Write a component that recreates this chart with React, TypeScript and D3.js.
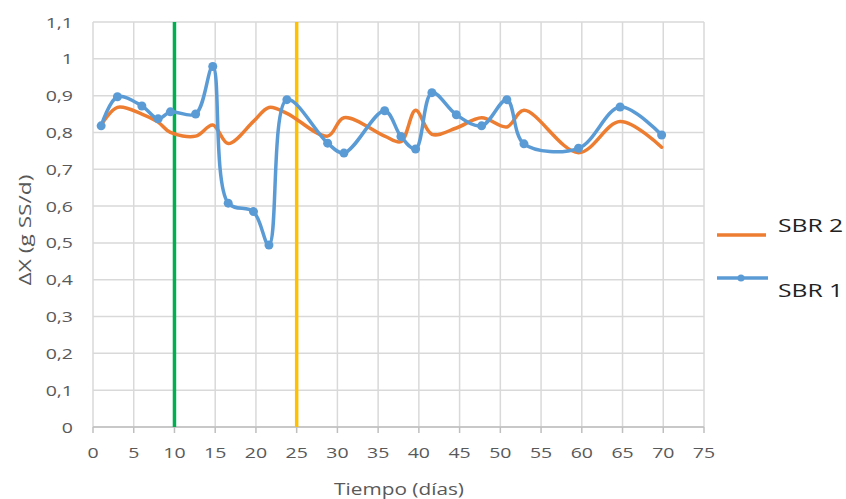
import React from "react";
import * as d3 from "d3";

const days = [1, 3, 6, 8, 9.5, 12.6, 14.7, 16.6, 19.7, 21.6, 23.8, 28.8, 30.8, 35.8, 37.8, 39.6, 41.6, 44.6, 47.7, 50.8, 52.9, 59.6, 64.7, 69.8];
const sbr1 = [0.818, 0.897, 0.872, 0.837, 0.856, 0.85, 0.979, 0.608, 0.585, 0.494, 0.889, 0.771, 0.744, 0.859, 0.789, 0.755, 0.908, 0.848, 0.818, 0.889, 0.769, 0.757, 0.869, 0.793];
const sbr2 = [0.82, 0.868, 0.85, 0.828, 0.8, 0.79, 0.82, 0.77, 0.83, 0.868, 0.852, 0.79, 0.84, 0.79, 0.775, 0.86, 0.795, 0.812, 0.84, 0.815, 0.86, 0.745, 0.83, 0.76];
const xTicks = d3.range(0, 80, 5);
const yTicks = d3.range(0, 12).map((i) => i / 10);
const yTickLabels = yTicks.map((v) => (v === 0 ? "0" : v === 1 ? "1" : v.toFixed(1).replace(".", ",")));
const markerLines = [
  { day: 10, color: "#00B050" },
  { day: 25, color: "#FFC000" },
];
const seriesNames = ["SBR 2", "SBR 1"];

const W = 846;
const H = 499;
const L = 93, R = 704, T = 22, B = 427;
const SX = 1.3;
const FONT = "'Open Sans', sans-serif";
const TXT = "#595959";

export default function App() {
  const x = d3.scaleLinear().domain([0, 75]).range([L, R]);
  const y = d3.scaleLinear().domain([0, 1.1]).range([B, T]);
  const curve = d3.curveCatmullRom.alpha(0.5);
  const line = d3
    .line<number>()
    .x((_, i) => x(days[i]))
    .y((v) => y(v))
    .curve(curve);

  return (
    <svg width={W} height={H} style={{ position: "absolute", left: 0, top: 0, background: "#fff" }} fontFamily={FONT}>
      {/* grid */}
      {yTicks.map((v) => (
        <line key={"gy" + v} x1={L} x2={R} y1={y(v)} y2={y(v)} stroke="#D9D9D9" strokeWidth={1.5} />
      ))}
      {xTicks.map((v) => (
        <line key={"gx" + v} x1={x(v)} x2={x(v)} y1={T} y2={B} stroke="#D9D9D9" strokeWidth={1.5} />
      ))}
      {/* x axis */}
      <line x1={L} x2={R} y1={B} y2={B} stroke="#BFBFBF" strokeWidth={1.5} />
      {xTicks.map((v) => (
        <line key={"tx" + v} x1={x(v)} x2={x(v)} y1={B} y2={B + 6} stroke="#BFBFBF" strokeWidth={1.5} />
      ))}
      {xTicks.map((v) => (
        <text key={"lx" + v} transform={`translate(${x(v)},${B + 31}) scale(${SX},1)`} textAnchor="middle" fontSize={15} fill={TXT}>
          {v}
        </text>
      ))}
      {yTicks.map((v, i) => (
        <text key={"ly" + v} transform={`translate(73,${y(v) + 5.5}) scale(${SX},1)`} textAnchor="end" fontSize={15} fill={TXT}>
          {yTickLabels[i]}
        </text>
      ))}
      {/* axis titles */}
      <text transform={`translate(399,495) scale(${SX},1)`} textAnchor="middle" fontSize={16} fill={TXT}>
        Tiempo (días)
      </text>
      <text transform={`translate(31,230) rotate(-90) scale(${SX + 0.12},1)`} textAnchor="middle" fontSize={16} fill={TXT}>
        ΔX (g SS/d)
      </text>
      {/* vertical lines */}
      {markerLines.map((m) => (
        <line key={"m" + m.day} x1={x(m.day)} x2={x(m.day)} y1={T} y2={B} stroke={m.color} strokeWidth={3.5} />
      ))}
      {/* series */}
      <path d={line(sbr2) || ""} fill="none" stroke="#ED7D31" strokeWidth={3.5} strokeLinecap="round" />
      <path d={line(sbr1) || ""} fill="none" stroke="#5B9BD5" strokeWidth={3.5} strokeLinecap="round" />
      {sbr1.map((v, i) => (
        <circle key={"p" + i} cx={x(days[i])} cy={y(v)} r={4.5} fill="#5B9BD5" />
      ))}
      {/* legend */}
      <line x1={717} x2={766} y1={235} y2={235} stroke="#ED7D31" strokeWidth={3.5} />
      <text transform={`translate(778,232) scale(${SX},1)`} fontSize={19} fill="#222">
        {seriesNames[0]}
      </text>
      <line x1={717} x2={768} y1={278} y2={278} stroke="#5B9BD5" strokeWidth={3.5} />
      <circle cx={741} cy={278} r={3.5} fill="#5B9BD5" />
      <text transform={`translate(778,297) scale(${SX},1)`} fontSize={19} fill="#222">
        {seriesNames[1]}
      </text>
    </svg>
  );
}
